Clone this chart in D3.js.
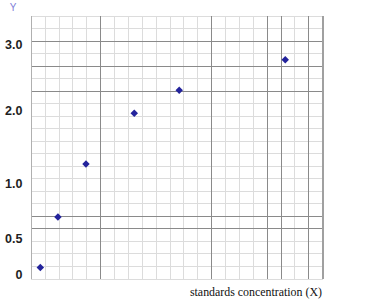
<!DOCTYPE html>
<html>
<head>
<meta charset="utf-8">
<script src="https://cdn.jsdelivr.net/npm/d3@7"></script>
<style>
  html, body { margin: 0; padding: 0; background: #fff; }
  svg { display: block; }
</style>
</head>
<body>
<svg id="chart" width="376" height="301"></svg>
<script>
// ---- data ----
const xValues = [0.65, 1.92, 3.94, 7.42, 10.66, 18.3];   // concentration (grid units)
const yValues = [0.09, 0.69, 1.26, 1.955, 2.30, 2.76];   // response
const yTickValues = [0, 0.5, 1.0, 2.0, 3.0];
const yTickLabels = ["0", "0.5", "1.0", "2.0", "3.0"];
const gridCount = 21;
const darkVertical = [5, 13, 17, 18, 20];
const darkHorizontal = [4, 5, 15, 17, 19];
const xTitle = "standards concentration (X)";
const yTitle = "Y";

// ---- layout ----
const svg = d3.select("#chart");
const pLeft = 31.3, pRight = 322.7, pTop = 16, pBottom = 279;

const gx = d3.scaleLinear().domain([0, gridCount]).range([pLeft, pRight]);
const gy = d3.scaleLinear().domain([0, gridCount]).range([pBottom, pTop]);
// value scale whose tick labels sit at the positions of the reference
const y = d3.scaleLinear().domain(yTickValues).range([274, 238, 183, 110, 44]);

const grid = svg.append("g");
const idx = d3.range(0, gridCount + 1);

// minor grid
grid.selectAll("line.vmin").data(idx).join("line")
  .attr("x1", d => gx(d)).attr("x2", d => gx(d))
  .attr("y1", pTop).attr("y2", pBottom)
  .attr("stroke", "#dcdcdc").attr("stroke-width", 1)
  .attr("shape-rendering", "crispEdges");
grid.selectAll("line.hmin").data(idx).join("line")
  .attr("y1", d => gy(d)).attr("y2", d => gy(d))
  .attr("x1", pLeft).attr("x2", pRight)
  .attr("stroke", "#dcdcdc").attr("stroke-width", 1)
  .attr("shape-rendering", "crispEdges");

// major (dark) grid lines
grid.selectAll("line.vmaj").data(darkVertical).join("line")
  .attr("x1", d => gx(d)).attr("x2", d => gx(d))
  .attr("y1", pTop).attr("y2", pBottom)
  .attr("stroke", "#8a8a8a").attr("stroke-width", 1)
  .attr("shape-rendering", "crispEdges");
grid.selectAll("line.hmaj").data(darkHorizontal).join("line")
  .attr("y1", d => gy(d)).attr("y2", d => gy(d))
  .attr("x1", pLeft).attr("x2", pRight)
  .attr("stroke", "#8a8a8a").attr("stroke-width", 1)
  .attr("shape-rendering", "crispEdges");

// left edge and right border
grid.append("line")
  .attr("x1", gx(0)).attr("x2", gx(0)).attr("y1", pTop).attr("y2", pBottom)
  .attr("stroke", "#b0b0b0").attr("shape-rendering", "crispEdges");
grid.append("line")
  .attr("x1", gx(gridCount)).attr("x2", gx(gridCount)).attr("y1", pTop).attr("y2", pBottom)
  .attr("stroke", "#a0a0a0").attr("stroke-width", 2).attr("shape-rendering", "crispEdges");

// y tick labels
svg.append("g").selectAll("text").data(yTickValues).join("text")
  .attr("x", 22.5)
  .attr("y", d => y(d))
  .attr("dy", "0.36em")
  .attr("text-anchor", "end")
  .attr("font-family", "Liberation Sans, Arial, sans-serif")
  .attr("font-size", 12.5)
  .attr("font-weight", "bold")
  .attr("fill", "#1e1e1e")
  .text((d, i) => yTickLabels[i]);

// y title
svg.append("text")
  .attr("x", 13).attr("y", 10.5)
  .attr("text-anchor", "middle")
  .attr("font-family", "Liberation Sans, Arial, sans-serif")
  .attr("font-size", 10)
  .attr("fill", "#8080d8")
  .text(yTitle);

// x title
svg.append("text")
  .attr("x", 322).attr("y", 295.5)
  .attr("text-anchor", "end")
  .attr("font-family", "Liberation Serif, Times New Roman, serif")
  .attr("font-size", 11.9)
  .attr("fill", "#111")
  .text(xTitle);

// points (square rotated 45° = diamond of equal width and height)
const marker = d3.symbol().type(d3.symbolSquare).size(28);
svg.append("g").selectAll("path").data(xValues).join("path")
  .attr("transform", (d, i) => `translate(${gx(d)},${y(yValues[i])}) rotate(45)`)
  .attr("d", marker)
  .attr("fill", "#23239c");
</script>
</body>
</html>
